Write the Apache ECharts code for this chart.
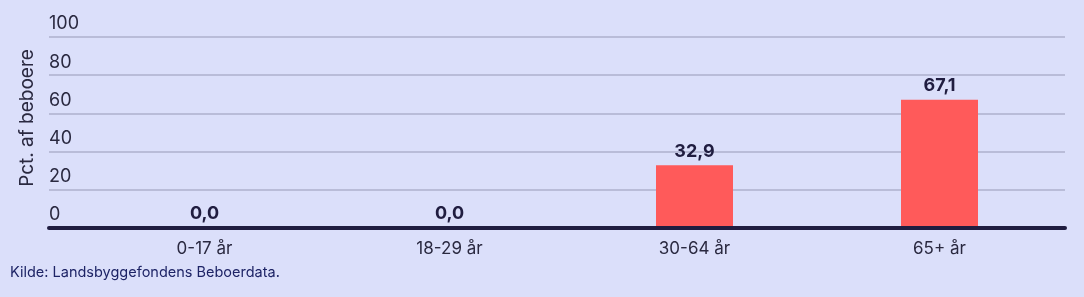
<!DOCTYPE html>
<html><head><meta charset="utf-8">
<script src="https://cdn.jsdelivr.net/npm/echarts@6/dist/echarts.min.js"></script>
<style>html,body{margin:0;padding:0;background:#dbdffa;}#c{width:1084px;height:297px;}</style>
</head><body><div id="c"></div>
<script>
const categories = ['0-17 år', '18-29 år', '30-64 år', '65+ år'];
const values = [0.0, 0.0, 32.9, 67.1];
const yTicks = [0, 20, 40, 60, 80, 100];
const yTitle = 'Pct. af beboere';
const source = 'Kilde: Landsbyggefondens Beboerdata.';

const font = 'Inter, "Noto Sans", sans-serif';
const chart = echarts.init(document.getElementById('c'), null, {renderer: 'canvas'});
chart.setOption({
  backgroundColor: '#dbdffa',
  animation: false,
  textStyle: {fontFamily: font},
  grid: [
    {left: 49, right: 19, top: 37, bottom: 69},
    {left: 82, right: 22, top: 37, bottom: 69}
  ],
  xAxis: [
    {gridIndex: 0, type: 'category', data: categories, axisLabel: {show: false}, axisTick: {show: false},
     axisLine: {show: true, lineStyle: {color: '#201d40', width: 4}}, z: 5},
    {gridIndex: 1, type: 'category', data: categories, axisTick: {show: false}, axisLine: {show: false},
     axisLabel: {color: '#2a2940', fontSize: 17, margin: 12, fontFamily: font}}
  ],
  yAxis: [
    {gridIndex: 0, type: 'value', min: yTicks[0], max: yTicks[yTicks.length - 1], interval: 20,
     axisLine: {show: false}, axisTick: {show: false},
     splitLine: {lineStyle: {color: '#b9bcd8', width: 2}},
     axisLabel: {inside: true, margin: 0, verticalAlign: 'bottom', padding: [0, 0, 4, 0],
                 color: '#2a2940', fontSize: 18, fontFamily: font}},
    {gridIndex: 1, type: 'value', min: 0, max: 100, interval: 20, show: false, splitLine: {show: false}}
  ],
  graphic: [
    {type: 'text', x: 27, y: 118, rotation: Math.PI / 2,
     style: {text: yTitle, fill: '#2a2940', fontSize: 19, fontFamily: font, align: 'center', verticalAlign: 'middle'}},
    {type: 'text', x: 10, y: 273,
     style: {text: source, fill: '#1e2466', fontSize: 14.5, fontFamily: font, align: 'left', verticalAlign: 'middle'}}
  ],
  series: [{
    type: 'bar', xAxisIndex: 1, yAxisIndex: 1, data: values, barWidth: 77,
    itemStyle: {color: '#ff5a5a'},
    label: {show: true, position: 'top', distance: 5, color: '#201d40', fontSize: 18, fontWeight: 'bold', fontFamily: font,
            formatter: p => p.value.toFixed(1).replace('.', ',')}
  }]
});
</script></body></html>
